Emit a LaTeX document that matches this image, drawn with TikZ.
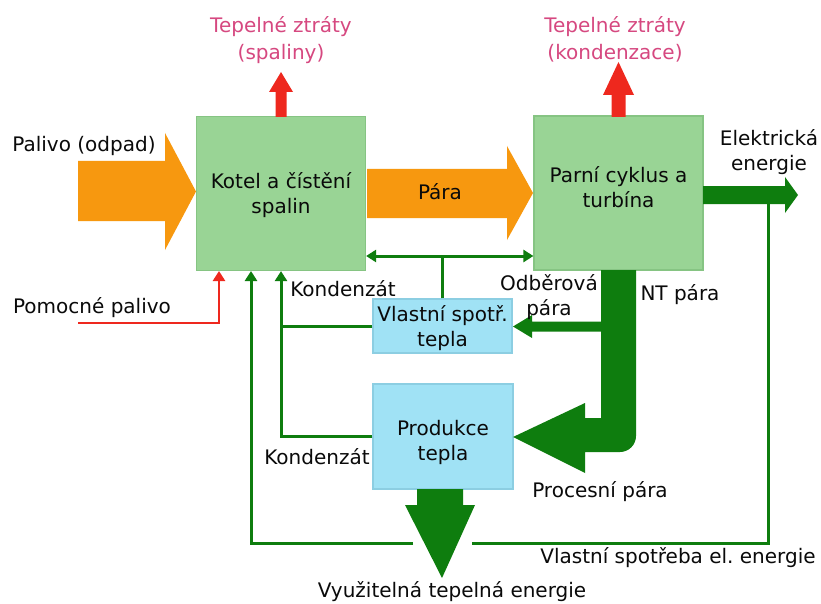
\documentclass[tikz,border=0pt]{standalone}
\usepackage{fontspec}
\setmainfont{DejaVu Sans}
\usetikzlibrary{arrows.meta}
\frenchspacing
\definecolor{boxgreen}{RGB}{153,212,149}
\definecolor{boxgreenb}{RGB}{134,196,131}
\definecolor{boxblue}{RGB}{160,226,245}
\definecolor{boxblueb}{RGB}{140,206,226}
\definecolor{dgreen}{RGB}{14,125,14}
\definecolor{orng}{RGB}{247,152,15}
\definecolor{redarr}{RGB}{238,40,30}
\definecolor{pinktxt}{RGB}{214,72,128}
\definecolor{txt}{RGB}{10,10,10}
\begin{document}
\begin{tikzpicture}[x=1pt,y=-1pt,
  lbl/.style={font=\fontsize{20}{25}\selectfont, text=txt, inner sep=0pt, align=center, anchor=base},
  pinklbl/.style={lbl, text=pinktxt, font=\fontsize{20}{27}\selectfont},
  gbox/.style={draw=boxgreenb, fill=boxgreen, line width=1.2pt, inner sep=0pt, minimum width=169pt, minimum height=154pt},
  bbox/.style={draw=boxblueb, fill=boxblue, line width=1.2pt, inner sep=0pt},
  boxtxt/.style={font=\fontsize{20}{25}\selectfont, text=txt, align=center},
  gline/.style={draw=dgreen, line width=3pt},
  rline/.style={draw=redarr, line width=2.5pt},
  tip/.tip={Triangle[length=10pt,width=12pt]}
]
\useasboundingbox (0,0) rectangle (821,604);
\fill[white] (0,0) rectangle (821,604);

% boxes
\node[gbox] (kotel) at (281,193.5) {};
\node[gbox] (parni) at (618.5,193) {};
\node[bbox, minimum width=139pt, minimum height=54pt] (vlastni) at (442.5,326) {};
\node[bbox, minimum width=140pt, minimum height=105pt] (produkce) at (443,436.5) {};

\node[boxtxt] (tkotel) at (281,195) {Kotel a čístění\\spalin};
\node[boxtxt] (tparni) at (618.5,187) {Parní cyklus a\\turbína};
\node[boxtxt] (tvlastni) at (442.5,328) {Vlastní spotř.\\tepla};
\node[boxtxt] (tprod) at (443,442) {Produkce\\tepla};

% red loss arrows
\fill[redarr] (275.5,117) -- (275.5,92) -- (269,92) -- (281,72) -- (293,92) -- (286.5,92) -- (286.5,117) -- cycle;
\fill[redarr] (611.5,117) -- (611.5,95) -- (603,95) -- (618.5,62) -- (634,95) -- (625.5,95) -- (625.5,117) -- cycle;

% orange arrows
\fill[orng] (78,161) -- (165,161) -- (165,133) -- (196,191.5) -- (165,250) -- (165,221) -- (78,221) -- cycle;
\fill[orng] (367,169) -- (507,169) -- (507,146) -- (533,193) -- (507,240) -- (507,218) -- (367,218) -- cycle;

% electric arrow
\fill[dgreen] (703,186) -- (785,186) -- (785,177) -- (798,195) -- (785,213) -- (785,204) -- (703,204) -- cycle;

% NT steam arrow
\fill[dgreen] (601,270) -- (601,418) -- (585,418) -- (585,403) -- (513,437) -- (585,473) -- (585,452)
  [rounded corners=16pt] -- (636,452) -- (636,380) [sharp corners] -- (636,270) -- cycle;

% extraction steam arrow
\fill[dgreen] (602,321.5) -- (532,321.5) -- (532,315) -- (513,326.5) -- (532,338) -- (532,331.5) -- (602,331.5) -- cycle;

% useful heat arrow
\fill[dgreen] (417,489) -- (417,505) -- (405,505) -- (442,578) -- (475,505) -- (463,505) -- (463,489) -- cycle;

% thin green connectors
\draw[gline, tip-tip] (kotel.east |- 0,256) -- (parni.west |- 0,256);
\draw[gline] (vlastni.north) -- (vlastni.north |- 0,256);
\draw[gline, -tip] (produkce.west) -| (kotel.south);
\draw[gline] (vlastni.west) -- (vlastni.west -| kotel.south);
\coordinate (eA) at (768,200);
\coordinate (eB) at (768,543);
\coordinate (gapR) at (472,543);
\coordinate (gapL) at (413,543);
\coordinate (kB) at (251,271);
\draw[gline] (eA) -- (eB) -- (gapR);
\draw[gline, -tip] (gapL) -| (kB);

% auxiliary fuel
\coordinate (pA) at (78,323);
\coordinate (pB) at (219,271);
\draw[rline, -tip] (pA) -| (pB);

% labels
\node[pinklbl] (l1) at (281,60) {Tepelné ztráty\\(spaliny)};
\node[pinklbl] (l2) at (615,60) {Tepelné ztráty\\(kondenzace)};
\node[lbl] (l3) at (84,152) {Palivo (odpad)};
\node[lbl] (l4) at (440,200) {Pára};
\node[lbl] (l5) at (769,171) {Elektrická\\energie};
\node[lbl] (l6) at (92,313) {Pomocné palivo};
\node[lbl] (l7) at (343,296) {Kondenzát};
\node[lbl] (l8) at (317,464) {Kondenzát};
\node[lbl] (l9) at (549,315) {Odběrová\\pára};
\node[lbl] (l10) at (680,300) {NT pára};
\node[lbl] (l11) at (600,497) {Procesní pára};
\node[lbl] (l12) at (678,563) {Vlastní spotřeba el. energie};
\node[lbl] (l13) at (452,597) {Využitelná tepelná energie};
\end{tikzpicture}
\end{document}
